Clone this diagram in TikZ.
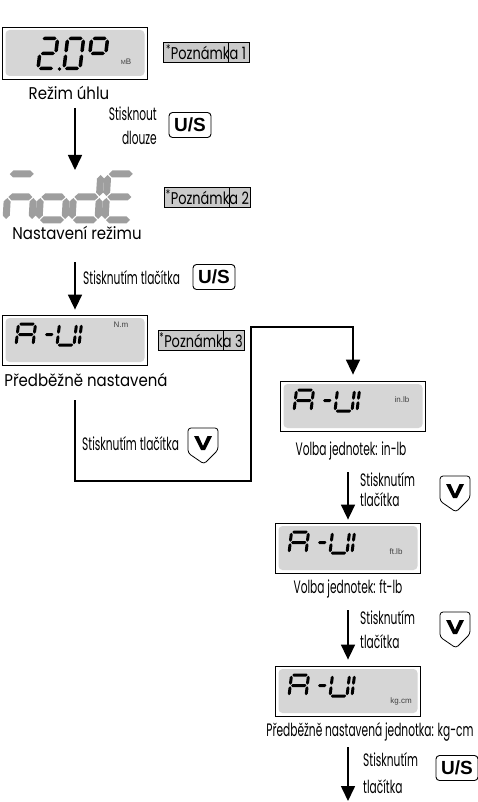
\documentclass[tikz,border=0pt]{standalone}
\usepackage{fontspec}
\setmainfont[FakeStretch=0.88]{Poppins}
\newfontfamily\condfont[FakeStretch=0.59]{Poppins}
\newfontfamily\notefont[FakeStretch=0.76]{Poppins}
\newfontfamily\keyfont{Liberation Sans}
\usetikzlibrary{calc,arrows.meta}

\definecolor{lcdgray}{RGB}{214,214,214}
\definecolor{seggray}{RGB}{158,158,158}
\definecolor{notegray}{RGB}{202,202,202}

% one segment, horizontal or vertical, with bevelled ends
\newcommand{\segh}[3]{\fill (#1,#3) -- (#1+\sth/2,#3+\sth/2) -- (#2-\sth/2,#3+\sth/2) -- (#2,#3) -- (#2-\sth/2,#3-\sth/2) -- (#1+\sth/2,#3-\sth/2) -- cycle;}
\newcommand{\segv}[3]{\fill (#1,#2) -- (#1+\sth/2,#2+\sth/2) -- (#1+\sth/2,#3-\sth/2) -- (#1,#3) -- (#1-\sth/2,#3-\sth/2) -- (#1-\sth/2,#2+\sth/2) -- cycle;}
\newcommand{\lcda}{\segh{\sgp}{\sdw-\sgp}{\sdh}}
\newcommand{\lcdg}{\segh{\sgp}{\sdw-\sgp}{\sdh/2}}
\newcommand{\lcdd}{\segh{\sgp}{\sdw-\sgp}{0}}
\newcommand{\lcdf}{\segv{0}{\sdh/2+\sgp}{\sdh-\sgp}}
\newcommand{\lcdb}{\segv{\sdw}{\sdh/2+\sgp}{\sdh-\sgp}}
\newcommand{\lcde}{\segv{0}{\sgp}{\sdh/2-\sgp}}
\newcommand{\lcdc}{\segv{\sdw}{\sgp}{\sdh/2-\sgp}}
% a seven segment character, #1 = bottom left, #2 = lit segments
\newcommand{\lcdchar}[2]{%
  \begin{scope}[shift={#1},x=1pt,y=1pt,xslant=\sslant]
    \foreach \sg in {#2} {\csname lcd\sg\endcsname}
  \end{scope}}
% the A-UI readout
\newcommand{\aui}[1]{%
  \begin{scope}[shift={#1}]
    \lcdchar{(0,0)}{a,b,c,e,f,g}
    {\pgfmathsetmacro{\sdw}{10}\lcdchar{(27,0)}{g}}
    \lcdchar{(41,0)}{b,c,d,e,f}
    \lcdchar{(63,0)}{e,f}
  \end{scope}}

\tikzset{
  lcd/.style={draw, line width=0.8pt, fill=white, inner sep=0pt,
    minimum width=145pt, minimum height=50pt,
    path picture={\fill[lcdgray, rounded corners=4pt]
      ([shift={(3pt,3pt)}]path picture bounding box.south west) rectangle
      ([shift={(-3pt,-3pt)}]path picture bounding box.north east);}},
  notebox/.style={draw, line width=0.6pt, fill=notegray, inner sep=0pt,
    minimum width=86pt, minimum height=20pt, font=\notefont\fontsize{17}{17}\selectfont,
    path picture={\draw[line width=0.5pt]
      ([xshift=-21pt]path picture bounding box.north east) --
      ([xshift=-21pt]path picture bounding box.south east);}},
  keybox/.style={draw, line width=0.9pt, rounded corners=3.5pt, inner sep=0pt,
    minimum width=42pt, minimum height=25pt, font=\keyfont\bfseries\fontsize{19}{19}\selectfont},
  lbl/.style={font=\fontsize{17}{20}\selectfont, inner sep=0pt, anchor=base},
  cnd/.style={font=\condfont\fontsize{18}{20}\selectfont, inner sep=0pt, anchor=base west},
  unittxt/.style={font=\keyfont\fontsize{8}{8}\selectfont, text=black!75, inner sep=0pt},
  flow/.style={line width=1.6pt, -{Triangle[length=15pt,width=14pt]}},
  vkey/.pic={
    \draw[line width=0.8pt, rounded corners=3pt] (-15,-18) -- (15,-18) -- (15,4) -- (1,18) -- (-15,7) -- cycle;
    \fill (-9,-10) -- (-4.5,-10) -- (0,0) -- (4.5,-10) -- (9,-10) -- (2,4) -- (-2,4) -- cycle;
  }
}

\begin{document}
\begin{tikzpicture}[x=1pt,y=-1pt]
    \useasboundingbox (0,0) rectangle (478,802);

    % displays
    \node[lcd, minimum height=52pt] (d1) at (75,53) {};
    \node[lcd] (d3) at (75,340) {};
    \node[lcd] (d4) at (353,406) {};
    \node[lcd] (d5) at (348,548) {};
    \node[lcd] (d6) at (348,691) {};

    % angle mode: 2.0 deg
    \pgfmathsetmacro{\sdw}{16}
    \pgfmathsetmacro{\sdh}{30}
    \pgfmathsetmacro{\sth}{3.5}
    \pgfmathsetmacro{\sgp}{1}
    \pgfmathsetmacro{\sslant}{0.12}
    \lcdchar{(38,68.5)}{a,b,g,e,d}
    \lcdchar{(64,68.5)}{a,b,c,d,e,f}
    \lcdchar{(88,68.5)}{a,b,f,g}
    \fill (59.5,69) circle (1.8);
    \node[unittxt] (u1) at (126,62) {{\fontsize{6}{6}\selectfont M}B};

    % mode text
    \pgfmathsetmacro{\sdw}{26}
    \pgfmathsetmacro{\sdh}{46}
    \pgfmathsetmacro{\sth}{7}
    \pgfmathsetmacro{\sgp}{1}
    \pgfmathsetmacro{\sslant}{0.06}
    \begin{scope}[seggray]
        \lcdchar{(6,220)}{a,g,e,c}
        \lcdchar{(39,220)}{g,e,c,d}
        \lcdchar{(72,220)}{b,c,d,e,g}
        \lcdchar{(105,220)}{a,f,g,e,d}
    \end{scope}

    % unit displays
    \pgfmathsetmacro{\sdw}{17}
    \pgfmathsetmacro{\sdh}{21}
    \pgfmathsetmacro{\sth}{3}
    \pgfmathsetmacro{\sgp}{0.8}
    \pgfmathsetmacro{\sslant}{0.12}
    \aui{(16,345)}
    \aui{(294,411)}
    \aui{(289,553)}
    \aui{(289,696)}
    \node[unittxt] (u3) at (121,325) {N.m};
    \node[unittxt] (u4) at (402,400) {in.lb};
    \node[unittxt] (u5) at (396,552) {ft.lb};
    \node[unittxt] (u6) at (401,701) {kg.cm};

    % notes
    \node[notebox] (n1) at (206,52) {\textsuperscript{*}Poznámka 1};
    \node[notebox] (n2) at (207.5,197.5) {\textsuperscript{*}Poznámka 2};
    \node[notebox] (n3) at (201,340) {\textsuperscript{*}Poznámka 3};

    % captions
    \node[lbl] (t1) at (69,100) {Režim úhlu};
    \node[lbl] (t2) at (77,240) {Nastavení režimu};
    \node[lbl] (t3) at (86,386) {Předběžně nastavená};
    \node[cnd, anchor=base] (t4) at (351,455) {Volba jednotek: in-lb};
    \node[cnd, anchor=base] (t5) at (348,593) {Volba jednotek: ft-lb};
    \node[cnd, anchor=base] (t6) at (370,736) {Předběžně nastavená jednotka: kg-cm};

    % key hints
    \node[cnd, anchor=base east] (s1a) at (157,121) {Stisknout};
    \node[cnd, anchor=base east] (s1b) at (157,145) {dlouze};
    \node[cnd] (s2) at (83,284) {Stisknutím tlačítka};
    \node[cnd] (s3) at (82,450) {Stisknutím tlačítka};
    \node[cnd] (s4a) at (360,486) {Stisknutím};
    \node[cnd] (s4b) at (360,506) {tlačítka};
    \node[cnd] (s5a) at (360,624) {Stisknutím};
    \node[cnd] (s5b) at (360,648) {tlačítka};
    \node[cnd] (s6a) at (363,766) {Stisknutím};
    \node[cnd] (s6b) at (363,793) {tlačítka};
    \node[keybox] (k1) at (190,125) {U/S};
    \node[keybox] (k2) at (214,277) {U/S};
    \node[keybox] (k3) at (457,768) {U/S};
    \pic at (203,446) {vkey};
    \pic at (455,494) {vkey};
    \pic at (455,630) {vkey};

    % flow
    \coordinate (a1) at (75,108);
    \coordinate (b1) at (75,170);
    \coordinate (a2) at (75,262);
    \coordinate (c0) at (75,400);
    \coordinate (c1) at (251,481);
    \coordinate (c2) at (353,327);
    \coordinate (a4) at (348,472);
    \coordinate (a5) at (348,610);
    \coordinate (a6) at (348,747);
    \coordinate (b6) at (348,801);
    \draw[flow] (a1) -- (b1);
    \draw[flow] (a2) -- ($(d3.north)+(0,-5)$);
    \draw[flow] (c0) |- (c1) |- (c2) -- ($(d4.north)+(0,-6)$);
    \draw[flow] (a4) -- ($(d5.north)+(0,-3)$);
    \draw[flow] (a5) -- ($(d6.north)+(0,-6)$);
    \draw[flow] (a6) -- (b6);
\end{tikzpicture}
\end{document}
